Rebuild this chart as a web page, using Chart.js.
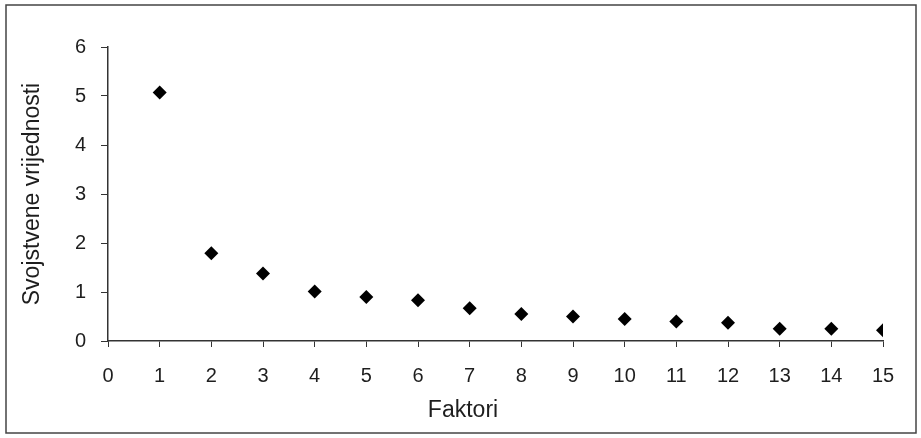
<!DOCTYPE html>
<html>
<head>
<meta charset="utf-8">
<script src="https://cdn.jsdelivr.net/npm/chart.js@4"></script>
<style>
  html, body { margin: 0; padding: 0; background: #fff; }
  #wrap { width: 921px; height: 438px; }
</style>
</head>
<body>
<div id="wrap"><canvas id="scree"></canvas></div>
<script>
const factors = [1, 2, 3, 4, 5, 6, 7, 8, 9, 10, 11, 12, 13, 14, 15];
const eigenValues = [5.07, 1.79, 1.38, 1.01, 0.90, 0.83, 0.67, 0.55, 0.50, 0.45, 0.40, 0.37, 0.25, 0.25, 0.22];
const xTitle = 'Faktori';
const yTitle = 'Svojstvene vrijednosti';

const textColor = '#1e1e1e';
const fontFamily = '"Liberation Sans", Arial, sans-serif';

// frame round the whole chart + x title centred on the whole picture (like Excel)
const framePlugin = {
    id: 'frame',
    beforeDraw(chart) {
        const ctx = chart.ctx;
        ctx.save();
        ctx.fillStyle = '#fff';
        ctx.fillRect(0, 0, chart.width, chart.height);
        ctx.strokeStyle = '#444';
        ctx.lineWidth = 1.5;
        ctx.strokeRect(6, 5, chart.width - 11, chart.height - 10);
        ctx.restore();
    },
    afterDraw(chart) {
        const ctx = chart.ctx;
        ctx.save();
        ctx.fillStyle = textColor;
        ctx.font = '23px ' + fontFamily;
        ctx.textAlign = 'center';
        ctx.textBaseline = 'middle';
        ctx.fillText(xTitle, 463, 411);
        ctx.restore();
    }
};

function createScreePlot() {
    const ctx = document.getElementById('scree').getContext('2d');
    return new Chart(ctx, {
        type: 'scatter',
        data: {
            datasets: [{
                data: factors.map((f, i) => ({ x: f, y: eigenValues[i] })),
                pointStyle: 'rectRot',
                pointRadius: 7,
                pointHoverRadius: 7,
                backgroundColor: '#000',
                borderColor: '#000',
                borderWidth: 0
            }]
        },
        options: {
            responsive: true,
            maintainAspectRatio: false,
            animation: false,
            layout: {
                padding: { left: 19, right: 38, top: 47, bottom: 0 }
            },
            plugins: {
                legend: { display: false },
                tooltip: { enabled: false }
            },
            scales: {
                x: {
                    type: 'linear',
                    min: 0,
                    max: 15,
                    afterFit: (scale) => { scale.height = 97; },
                    ticks: {
                        stepSize: 1,
                        padding: 17,
                        color: textColor,
                        font: { family: fontFamily, size: 20 }
                    },
                    grid: {
                        drawOnChartArea: false,
                        drawTicks: true,
                        tickLength: 6,
                        tickColor: '#333'
                    },
                    border: { display: true, color: '#333', width: 1.5 }
                },
                y: {
                    min: 0,
                    max: 6,
                    afterFit: (scale) => { scale.width = 89; },
                    ticks: {
                        stepSize: 1,
                        padding: 15,
                        color: textColor,
                        font: { family: fontFamily, size: 20 }
                    },
                    grid: {
                        drawOnChartArea: false,
                        drawTicks: true,
                        tickLength: 7,
                        tickColor: '#333'
                    },
                    border: { display: true, color: '#333', width: 1.5 },
                    title: {
                        display: true,
                        text: yTitle,
                        color: textColor,
                        padding: 0,
                        font: { family: fontFamily, size: 23 }
                    }
                }
            }
        },
        plugins: [framePlugin]
    });
}

createScreePlot();
</script>
</body>
</html>
